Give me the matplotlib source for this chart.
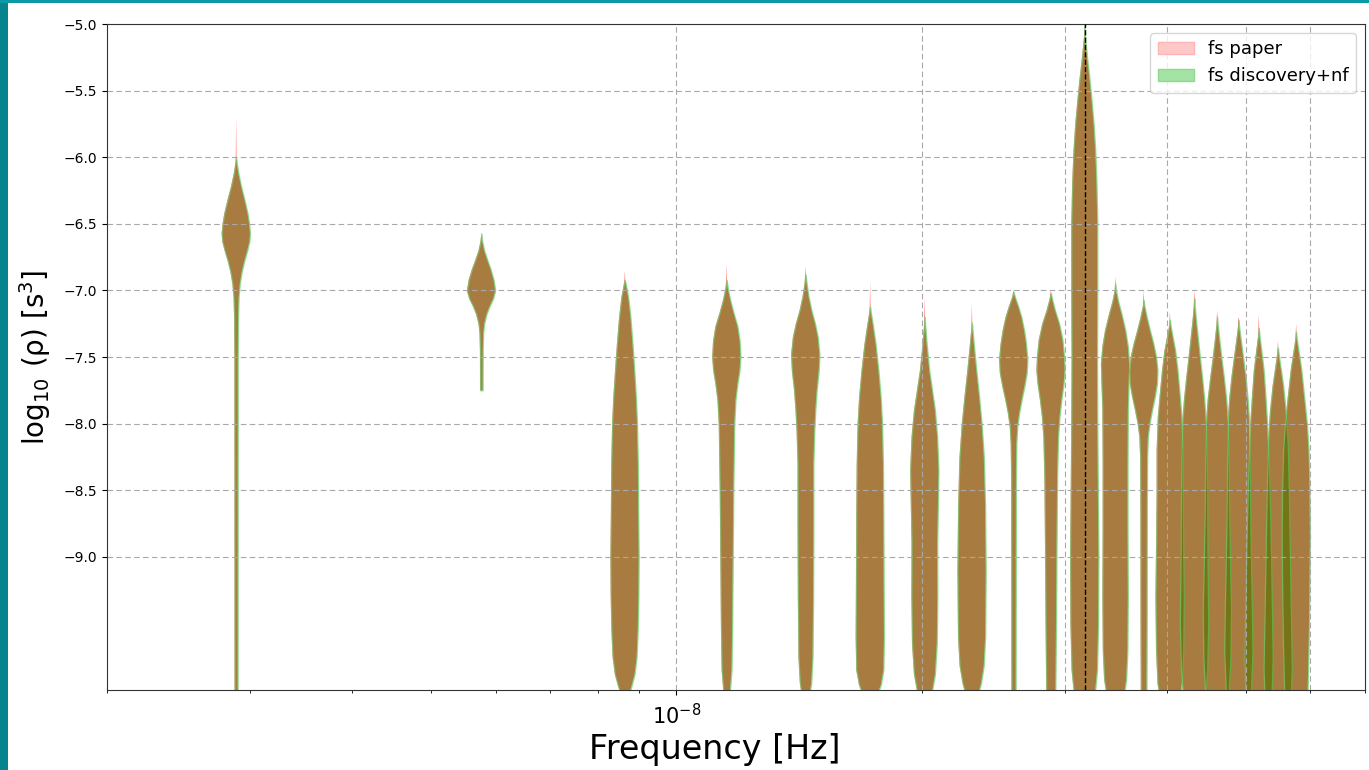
import numpy as np
import matplotlib
matplotlib.use("Agg")
import matplotlib.pyplot as plt
from matplotlib.patches import Patch, Rectangle
from matplotlib.ticker import NullFormatter

# ---------------------------------------------------------------------------
# Free-spectrum posteriors of log10(rho) at the harmonics k / T_span.
# Each bin is a density profile: (log10 rho [s^3], relative density).
# ---------------------------------------------------------------------------
YEAR_S = 365.25 * 86400.0
TSPAN_YR = 11.0
harmonics = np.arange(1, 21)

bin01 = [(-6.0, 0.0), (-6.05, 0.06), (-6.12, 0.16), (-6.22, 0.36), (-6.32, 0.6),
         (-6.42, 0.82), (-6.5, 0.94), (-6.57, 1.0), (-6.63, 0.96), (-6.7, 0.8),
         (-6.78, 0.58), (-6.86, 0.4), (-6.95, 0.26), (-7.05, 0.18), (-7.2, 0.14),
         (-7.5, 0.12), (-10.05, 0.11)]
bin02 = [(-6.57, 0.0), (-6.63, 0.06), (-6.7, 0.2), (-6.77, 0.42), (-6.84, 0.66),
         (-6.92, 0.88), (-7.0, 1.0), (-7.06, 0.85), (-7.12, 0.58), (-7.18, 0.36),
         (-7.25, 0.2), (-7.32, 0.13), (-7.45, 0.1), (-7.75, 0.09)]
bin03 = [(-6.92, 0.0), (-6.97, 0.1), (-7.05, 0.24), (-7.2, 0.4), (-7.4, 0.55),
         (-7.6, 0.68), (-7.8, 0.8), (-8.0, 0.88), (-8.3, 0.94), (-8.7, 0.97),
         (-9.0, 1.0), (-9.3, 0.98), (-9.55, 0.93), (-9.75, 0.85), (-9.88, 0.7),
         (-9.96, 0.5), (-10.05, 0.25)]
bin04 = [(-6.92, 0.0), (-6.98, 0.08), (-7.07, 0.25), (-7.17, 0.5), (-7.27, 0.78),
         (-7.38, 0.94), (-7.5, 1.0), (-7.6, 0.93), (-7.7, 0.78), (-7.82, 0.64),
         (-8.0, 0.55), (-8.5, 0.48), (-9.0, 0.44), (-9.5, 0.4), (-9.85, 0.35),
         (-10.05, 0.2)]
bin05 = [(-6.88, 0.0), (-6.95, 0.08), (-7.05, 0.22), (-7.15, 0.42), (-7.25, 0.68),
         (-7.35, 0.88), (-7.48, 1.0), (-7.6, 0.95), (-7.75, 0.8), (-7.9, 0.7),
         (-8.05, 0.63), (-8.3, 0.56), (-8.8, 0.56), (-9.3, 0.54), (-9.75, 0.5),
         (-9.95, 0.4), (-10.05, 0.25)]
bin06 = [(-7.12, 0.0), (-7.17, 0.06), (-7.25, 0.18), (-7.4, 0.38), (-7.6, 0.58),
         (-7.8, 0.74), (-8.0, 0.84), (-8.3, 0.9), (-8.7, 0.93), (-9.2, 0.95),
         (-9.6, 0.97), (-9.85, 0.93), (-9.96, 0.75), (-10.05, 0.45)]
bin07 = [(-7.2, 0.0), (-7.26, 0.04), (-7.4, 0.14), (-7.6, 0.32), (-7.75, 0.52),
         (-7.9, 0.72), (-8.1, 0.88), (-8.35, 0.97), (-8.6, 0.93), (-8.9, 0.88),
         (-9.3, 0.89), (-9.65, 0.85), (-9.88, 0.72), (-10.05, 0.45)]
bin08 = [(-7.24, 0.0), (-7.3, 0.05), (-7.45, 0.18), (-7.6, 0.32), (-7.8, 0.52),
         (-8.0, 0.7), (-8.25, 0.86), (-8.6, 0.95), (-9.1, 1.0), (-9.6, 0.96),
         (-9.82, 0.85), (-9.95, 0.65), (-10.05, 0.4)]
bin09 = [(-7.01, 0.0), (-7.05, 0.1), (-7.12, 0.33), (-7.2, 0.56), (-7.3, 0.76),
         (-7.4, 0.9), (-7.52, 1.0), (-7.62, 0.95), (-7.72, 0.78), (-7.82, 0.58),
         (-7.92, 0.4), (-8.02, 0.27), (-8.15, 0.2), (-8.4, 0.17), (-9.0, 0.16),
         (-10.05, 0.15)]
bin10 = [(-7.02, 0.0), (-7.07, 0.1), (-7.15, 0.3), (-7.25, 0.6), (-7.37, 0.84),
         (-7.5, 0.96), (-7.6, 1.0), (-7.7, 0.92), (-7.82, 0.76), (-7.95, 0.62),
         (-8.1, 0.52), (-8.4, 0.45), (-8.9, 0.41), (-9.5, 0.37), (-10.05, 0.32)]
bin11 = [(-5.0, 0.0), (-5.1, 0.04), (-5.25, 0.18), (-5.4, 0.34), (-5.57, 0.5),
         (-5.75, 0.65), (-5.95, 0.77), (-6.2, 0.86), (-6.5, 0.92), (-7.0, 0.92),
         (-7.5, 0.9), (-8.0, 0.92), (-8.5, 0.96), (-9.0, 1.0), (-9.5, 0.98),
         (-9.85, 0.9), (-10.05, 0.72)]
bin12 = [(-6.95, 0.0), (-7.0, 0.05), (-7.08, 0.2), (-7.18, 0.45), (-7.3, 0.72),
         (-7.42, 0.9), (-7.55, 1.0), (-7.7, 0.96), (-7.9, 0.9), (-8.3, 0.88),
         (-8.8, 0.88), (-9.3, 0.9), (-9.7, 0.87), (-9.92, 0.78), (-10.05, 0.6)]
bin13 = [(-7.07, 0.0), (-7.12, 0.06), (-7.2, 0.22), (-7.3, 0.45), (-7.4, 0.7),
         (-7.5, 0.9), (-7.6, 1.0), (-7.7, 0.96), (-7.8, 0.8), (-7.9, 0.6),
         (-8.0, 0.42), (-8.1, 0.3), (-8.25, 0.25), (-8.6, 0.23), (-9.5, 0.22),
         (-10.05, 0.2)]
bin14 = [(-7.22, 0.0), (-7.27, 0.06), (-7.35, 0.2), (-7.45, 0.38), (-7.6, 0.55),
         (-7.75, 0.68), (-7.95, 0.84), (-8.2, 0.92), (-8.5, 0.92), (-8.85, 0.95),
         (-9.3, 1.0), (-9.7, 0.96), (-9.95, 0.86), (-10.05, 0.72)]
bin15 = [(-7.06, 0.0), (-7.12, 0.04), (-7.22, 0.12), (-7.35, 0.25), (-7.5, 0.4),
         (-7.65, 0.56), (-7.82, 0.72), (-8.0, 0.84), (-8.25, 0.9), (-8.6, 0.93),
         (-9.0, 0.95), (-9.5, 1.0), (-9.85, 0.93), (-10.05, 0.78)]
bin16 = [(-7.2, 0.0), (-7.26, 0.05), (-7.36, 0.15), (-7.5, 0.3), (-7.65, 0.48),
         (-7.82, 0.66), (-8.0, 0.78), (-8.3, 0.83), (-8.7, 0.87), (-9.1, 0.94),
         (-9.4, 1.0), (-9.75, 0.96), (-10.05, 0.82)]
bin17 = [(-7.22, 0.0), (-7.28, 0.05), (-7.38, 0.17), (-7.5, 0.32), (-7.65, 0.5),
         (-7.8, 0.64), (-7.95, 0.74), (-8.3, 0.8), (-8.8, 0.85), (-9.3, 0.94),
         (-9.7, 1.0), (-10.05, 0.88)]
bin18 = [(-7.28, 0.0), (-7.35, 0.06), (-7.45, 0.18), (-7.6, 0.35), (-7.8, 0.48),
         (-8.0, 0.6), (-8.3, 0.72), (-8.8, 0.84), (-9.3, 0.93), (-9.75, 1.0),
         (-10.05, 0.92)]
bin19 = [(-7.43, 0.0), (-7.5, 0.08), (-7.6, 0.22), (-7.72, 0.38), (-7.9, 0.55),
         (-8.15, 0.7), (-8.5, 0.78), (-9.0, 0.86), (-9.5, 0.94), (-9.85, 1.0),
         (-10.05, 0.92)]
bin20 = [(-7.31, 0.0), (-7.37, 0.06), (-7.47, 0.2), (-7.6, 0.38), (-7.8, 0.58),
         (-8.0, 0.78), (-8.2, 0.9), (-8.5, 0.97), (-8.85, 1.0), (-9.3, 0.96),
         (-9.7, 0.9), (-10.05, 0.82)]

# The "fs paper" chains reach a little higher in the upper tail
paper_tail_top = [-5.7, -6.57, -6.85, -6.8, -6.82, -6.93, -7.05, -7.1, -7.0, -7.0,
                  -5.0, -6.9, -7.0, -7.16, -7.0, -7.15, -7.2, -7.18, -7.38, -7.25]

y_ticks = [-9.0, -8.5, -8.0, -7.5, -7.0, -6.5, -6.0, -5.5, -5.0]
x_major_ticks = [1e-8]
x_grid_freqs = [1e-8, 2e-8, 3e-8, 4e-8, 5e-8, 6e-8]

bins = [bin01, bin02, bin03, bin04, bin05, bin06, bin07, bin08, bin09, bin10,
        bin11, bin12, bin13, bin14, bin15, bin16, bin17, bin18, bin19, bin20]

freqs = harmonics / (TSPAN_YR * YEAR_S)
widths = 0.08 * freqs


def violin_stats(profile, tail_top=None):
    levels = [p[0] for p in profile]
    dens = [p[1] for p in profile]
    if tail_top is not None and tail_top > levels[0] + 1e-6:
        levels = [tail_top] + levels
        dens = [0.0, 0.025] + dens[1:]
    levels = np.asarray(levels, dtype=float)
    dens = np.asarray(dens, dtype=float)
    return dict(coords=levels, vals=dens, mean=float(np.mean(levels)),
                median=float(np.median(levels)), min=float(levels.min()),
                max=float(levels.max()))


fig = plt.figure(figsize=(13.69, 7.70), dpi=100)
ax = fig.add_axes([107 / 1369, 1 - 690 / 770, (1365 - 107) / 1369, (690 - 24) / 770])
ax.set_xscale("log")

paper_stats = [violin_stats(b, t) for b, t in zip(bins, paper_tail_top)]
disc_stats = [violin_stats(b) for b in bins]

red_parts = ax.violin(paper_stats, positions=freqs, widths=widths,
                      showmeans=False, showextrema=False, showmedians=False)
for body in red_parts["bodies"]:
    body.set_facecolor((1.0, 0.0, 0.0))
    body.set_edgecolor("none")
    body.set_alpha(0.6)

green_parts = ax.violin(disc_stats, positions=freqs, widths=widths,
                        showmeans=False, showextrema=False, showmedians=False)
for body in green_parts["bodies"]:
    body.set_alpha(None)
    body.set_facecolor((0.19, 0.61, 0.055, 0.42))
    body.set_edgecolor((0.45, 0.82, 0.45, 0.7))
    body.set_linewidth(0.9)

# 1/yr marker
ax.axvline(1.0 / YEAR_S, color="black", ls="--", lw=1.0, zorder=3)

ax.set_xlim(2e-9, 7e-8)
ax.set_ylim(-10.0, -5.0)
ax.set_xticks(x_major_ticks)
ax.set_xticklabels([r"$10^{-8}$"])
ax.set_yticks(y_ticks)
ax.set_yticklabels([f"{v:.1f}".replace("-", "\u2212") for v in y_ticks])
ax.xaxis.set_minor_formatter(NullFormatter())
ax.tick_params(axis="x", which="major", labelsize=15, pad=6)
ax.tick_params(axis="y", labelsize=10)

grid_style = dict(color="#a8a8a8", lw=0.8, ls=(0, (5, 3)))
ax.grid(axis="y", which="major", **grid_style)
for fg in x_grid_freqs:
    ax.axvline(fg, zorder=1.5, **grid_style)

for sp in ax.spines.values():
    sp.set_color("#333333")

ax.set_xlabel("Frequency [Hz]", fontsize=24)
ax.xaxis.set_label_coords(0.483, -0.064)
ax.set_ylabel(r"$\log_{10}$" + "\u2009(ρ) [s$^3$]", fontsize=20, labelpad=8)

handles = [Patch(facecolor="#ffc8c8", edgecolor="#ffb4b4", label="fs paper"),
           Patch(facecolor="#a3e3a3", edgecolor="#8fd88f", label="fs discovery+nf")]
ax.legend(handles=handles, loc="upper right", fontsize=13)

# slide frame strips
fig.add_artist(Rectangle((0, 0), 8 / 1369, 1, transform=fig.transFigure,
                         facecolor="#06838e", edgecolor="none", zorder=10))
fig.add_artist(Rectangle((0, 1 - 3 / 770), 1, 3 / 770, transform=fig.transFigure,
                         facecolor="#0a9aa6", edgecolor="none", zorder=10))

fig.savefig("out.png", dpi=100)
